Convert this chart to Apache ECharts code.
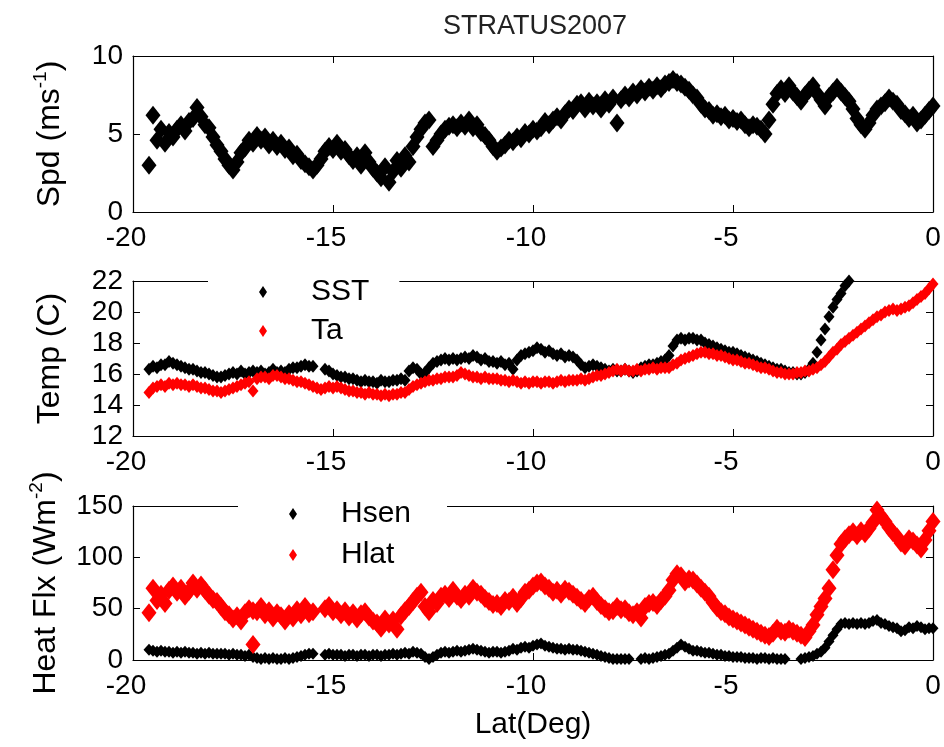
<!DOCTYPE html>
<html>
<head>
<meta charset="utf-8">
<script src="https://cdn.jsdelivr.net/npm/echarts@6.0.0/dist/echarts.min.js"></script>
<style>
html, body { margin: 0; padding: 0; background: #fff; }
#main { width: 944px; height: 747px; }
</style>
</head>
<body>
<div id="main"></div>
<script>
// latitude of each sample (deg)
var lat = [
  -19.6, -19.5, -19.4, -19.3, -19.2, -19.1, -19.0,
  -18.9, -18.8, -18.7, -18.6, -18.5, -18.4, -18.3, -18.2, -18.1, -18.0,
  -17.9, -17.8, -17.7, -17.6, -17.5, -17.4, -17.3, -17.2, -17.1, -17.0,
  -16.9, -16.8, -16.7, -16.6, -16.5, -16.4, -16.3, -16.2, -16.1, -16.0,
  -15.9, -15.8, -15.7, -15.6, -15.5, -15.4, -15.3, -15.2, -15.1, -15.0,
  -14.9, -14.8, -14.7, -14.6, -14.5, -14.4, -14.3, -14.2, -14.1, -14.0,
  -13.9, -13.8, -13.7, -13.6, -13.5, -13.4, -13.3, -13.2, -13.1, -13.0,
  -12.9, -12.8, -12.7, -12.6, -12.5, -12.4, -12.3, -12.2, -12.1, -12.0,
  -11.9, -11.8, -11.7, -11.6, -11.5, -11.4, -11.3, -11.2, -11.1, -11.0,
  -10.9, -10.8, -10.7, -10.6, -10.5, -10.4, -10.3, -10.2, -10.1, -10.0,
  -9.9, -9.8, -9.7, -9.6, -9.5, -9.4, -9.3, -9.2, -9.1, -9.0,
  -8.9, -8.8, -8.7, -8.6, -8.5, -8.4, -8.3, -8.2, -8.1, -8.0,
  -7.9, -7.8, -7.7, -7.6, -7.5, -7.4, -7.3, -7.2, -7.1, -7.0,
  -6.9, -6.8, -6.7, -6.6, -6.5, -6.4, -6.3, -6.2, -6.1, -6.0,
  -5.9, -5.8, -5.7, -5.6, -5.5, -5.4, -5.3, -5.2, -5.1, -5.0,
  -4.9, -4.8, -4.7, -4.6, -4.5, -4.4, -4.3, -4.2, -4.1, -4.0,
  -3.9, -3.8, -3.7, -3.6, -3.5, -3.4, -3.3, -3.2, -3.1, -3.0,
  -2.9, -2.8, -2.7, -2.6, -2.5, -2.4, -2.3, -2.2, -2.1, -2.0,
  -1.9, -1.8, -1.7, -1.6, -1.5, -1.4, -1.3, -1.2, -1.1, -1.0,
  -0.9, -0.8, -0.7, -0.6, -0.5, -0.4, -0.3, -0.2, -0.1, 0.0
];

// wind speed (m/s)
var spd = [
  3.0, 6.2, 4.6, 5.3, 4.4, 5.1, 4.8,
  5.3, 5.6, 5.2, 5.8, 6.0, 6.7, 6.1, 5.6, 5.4, 4.8,
  4.3, 3.9, 3.4, 3.0, 2.7, 3.2, 3.8, 4.1, 4.6, 4.4,
  4.9, 4.6, 4.8, 4.3, 4.6, 4.2, 4.4, 4.0, 4.1, 3.6,
  3.7, 3.3, 3.1, 2.9, 2.7, 3.0, 3.4, 3.9, 4.2, 4.0,
  4.4, 3.9, 4.0, 3.6, 3.3, 3.6, 3.0, 3.8, 3.2, 2.8,
  2.5, 2.2, 2.9, 1.9, 2.6, 3.3, 2.8, 3.6, 3.2, 4.2,
  4.8, 5.3, 5.7, 5.9, 4.2, 4.6, 5.0, 5.3, 5.5, 5.6,
  5.4, 5.7, 5.5, 5.9, 5.4, 5.6, 5.1, 4.9, 4.6, 4.2,
  3.9, 4.1, 4.3, 4.6, 4.5, 4.8, 4.7, 5.1, 5.0, 5.3,
  5.2, 5.4, 5.8, 5.6, 5.9, 6.1, 5.9, 6.3, 6.6, 6.5,
  6.9, 7.0, 6.6, 7.1, 6.8, 7.0, 6.6, 7.2, 6.9, 7.3,
  5.7, 7.2, 7.5, 7.3, 7.7, 7.5, 7.9, 7.7, 8.0, 7.8,
  8.1, 7.9, 8.2, 8.3, 8.5, 8.3, 8.2, 8.0, 7.8, 7.5,
  7.3, 6.9, 6.6, 6.5, 6.2, 6.3, 6.1, 6.2, 5.9, 6.0,
  5.8, 5.9, 5.6, 5.4, 5.6, 5.5, 5.3, 5.0, 5.9, 6.9,
  7.6, 7.9, 7.6, 8.1, 7.7, 7.4, 7.1, 7.5, 7.8, 8.1,
  7.6, 7.2, 6.8, 7.4, 7.7, 8.0, 7.7, 7.4, 7.1, 6.6,
  6.0, 5.6, 5.3, 5.7, 6.2, 6.6, 6.8, 7.0, 7.3, 7.1,
  6.9, 6.5, 6.3, 6.0, 6.2, 5.7, 5.9, 6.2, 6.5, 6.8
];

// sea surface temperature (C)
var sst = [
  16.3, 16.5, 16.4, 16.6, 16.6, 16.8, 16.7,
  16.6, 16.5, 16.4, 16.3, 16.3, 16.2, 16.1, 16.1, 16.0, 15.9,
  15.8, 15.8, 15.9, 16.0, 16.1, 16.0, 16.2, 16.0, 16.1, 16.2,
  16.1, 16.2, 16.0, 16.1, 16.3, 16.1, 16.2, 16.1, 16.3, 16.4,
  16.4, 16.5, 16.6, 16.5, 16.5, null, null, 16.3, 16.2, 16.0,
  15.9, 15.8, 15.8, 15.7, 15.7, 15.6, 15.5, 15.6, 15.5, 15.5,
  15.4, 15.6, 15.5, 15.5, 15.6, 15.6, 15.7, 15.6, 16.2, 16.4,
  16.3, 16.0, 16.1, 16.4, 16.7, 16.8, 16.9, 17.0, 16.9, 17.0,
  16.9, 17.0, 17.1, 17.0, 17.2, 17.1, 16.9, 17.0, 16.8, 16.8,
  16.7, 16.8, 16.6, 16.7, 16.3, 16.9, 17.2, 17.3, 17.4, 17.5,
  17.7, 17.6, 17.4, 17.5, 17.3, 17.2, 17.3, 17.1, 17.2, 17.1,
  16.9, 16.6, 16.4, 16.5, 16.6, 16.5, 16.4, 16.3, 16.2, 16.3,
  16.2, 16.2, 16.3, 16.2, 16.1, 16.2, 16.4, 16.5, 16.6, 16.6,
  16.7, 16.8, 16.9, 17.2, 17.8, 18.2, 18.3, 18.2, 18.3, 18.3,
  18.2, 18.2, 18.0, 17.9, 17.8, 17.7, 17.6, 17.5, 17.4, 17.4,
  17.3, 17.2, 17.1, 17.0, 16.9, 16.8, 16.7, 16.6, 16.5, 16.4,
  16.3, 16.3, 16.2, 16.1, 16.1, 16.0, 16.0, 16.1, 16.3, 16.7,
  17.4, 18.2, 18.9, 19.7, 20.3, 20.8, 21.2, 21.7, 22.0, null,
  null, null, null, null, null, null, null, null, null, null,
  null, null, null, null, null, null, null, null, null, null
];

// air temperature (C)
var ta = [
  14.8, 15.1, 15.2, 15.3, 15.2, 15.4, 15.3,
  15.4, 15.3, 15.3, 15.2, 15.3, 15.2, 15.1, 15.1, 15.0, 14.9,
  14.9, 14.8, 14.9, 15.0, 15.1, 15.2, 15.3, 15.4, 15.5, 14.9,
  15.7, 15.8, 15.8, 15.7, 15.9, 15.9, 15.8, 15.7, 15.7, 15.6,
  15.5, 15.5, 15.4, 15.3, 15.2, 15.1, 15.0, 15.1, 15.2, 15.1,
  15.2, 15.1, 15.0, 14.9, 14.9, 14.8, 14.8, 14.7, 14.8, 14.7,
  14.7, 14.6, 14.7, 14.6, 14.7, 14.7, 14.8, 14.8, 15.0, 15.2,
  15.3, 15.4, 15.5, 15.6, 15.6, 15.7, 15.7, 15.8, 15.8, 15.8,
  15.9, 16.1, 16.0, 15.9, 15.8, 15.8, 15.7, 15.8, 15.7, 15.7,
  15.7, 15.6, 15.6, 15.5, 15.6, 15.5, 15.4, 15.5, 15.4, 15.5,
  15.5, 15.4, 15.5, 15.5, 15.4, 15.5, 15.6, 15.5, 15.6, 15.6,
  15.6, 15.7, 15.6, 15.7, 15.8, 15.9, 15.9, 16.0, 16.1, 16.2,
  16.3, 16.2, 16.3, 16.2, 16.2, 16.3, 16.2, 16.3, 16.3, 16.4,
  16.3, 16.4, 16.4, 16.4, 16.6, 16.7, 16.9, 17.0, 17.1, 17.2,
  17.3, 17.4, 17.4, 17.3, 17.3, 17.2, 17.2, 17.1, 17.0, 16.9,
  16.9, 16.8, 16.7, 16.7, 16.6, 16.5, 16.4, 16.4, 16.3, 16.2,
  16.1, 16.1, 16.0, 16.0, 16.0, 16.1, 16.1, 16.2, 16.2, 16.3,
  16.4, 16.6, 16.8, 17.1, 17.4, 17.6, 17.9, 18.1, 18.3, 18.5,
  18.7, 18.9, 19.1, 19.3, 19.5, 19.7, 19.8, 20.0, 20.1, 20.2,
  20.1, 20.2, 20.3, 20.4, 20.6, 20.8, 21.0, 21.2, 21.5, 21.8
];

// sensible heat flux (W/m2)
var hsen = [
  10, 9, 8, 9, 8, 8, 7,
  8, 7, 8, 7, 7, 6, 7, 6, 7, 6,
  6, 6, 6, 5, 6, 5, 5, 4, 5, 3,
  2, 1, 2, 1, 2, 1, 1, 2, 1, 2,
  3, 4, 5, 6, 6, null, null, 5, 6, 5,
  5, 5, 4, 5, 5, 4, 5, 5, 4, 5,
  5, 4, 5, 5, 6, 5, 6, 7, 6, 8,
  7, 6, 3, 1, 3, 5, 7, 8, 7, 8,
  9, 8, 9, 10, 11, 10, 9, 8, 7, 8,
  8, 7, 8, 9, 11, 10, 12, 13, 12, 14,
  15, 16, 14, 13, 12, 11, 11, 10, 11, 10,
  10, 9, 8, 7, 6, 5, 4, 3, 2, 1,
  1, 1, 1, 1, null, null, 1, 2, 1, 2,
  3, 4, 5, 6, 9, 12, 15, 13, 11, 9,
  9, 8, 7, 7, 6, 5, 5, 4, 4, 3,
  3, 3, 2, 2, 2, 1, 2, 2, 1, 2,
  1, 1, 1, null, null, null, 1, 2, 3, 4,
  6, 8, 12, 18, 24, 30, 35, 36, 35, 36,
  35, 36, 35, 36, 38, 39, 36, 35, 33, 32,
  31, 28, 29, 32, 31, 33, 32, 30, 31, 31
];

// latent heat flux (W/m2)
var hlat = [
  46, 70, 58, 64, 55, 68, 72,
  66, 70, 62, 67, 75, 69, 73, 68, 63, 59,
  57, 52, 47, 44, 40, 43, 38, 46, 50, 48,
  47, 52, 44, 48, 41, 46, 43, 38, 45, 41,
  49, 44, 52, 45, 47, null, null, 50, 53, 47,
  49, 44, 48, 42, 46, 40, 45, 47, 42, 38,
  36, 31, 40, 35, 39, 30, 43, 48, 52, 57,
  62, 66, 52, 47, 58, 55, 62, 64, 60, 68,
  62, 59, 64, 62, 70, 66, 64, 60, 57, 54,
  55, 52, 58, 57, 61, 55, 60, 66, 68, 72,
  75, 76, 72, 70, 66, 68, 64, 69, 67, 64,
  61, 58, 55, 60, 62, 57, 53, 50, 47, 48,
  52, 49, 50, 46, 44, 47, 41, 52, 55, 56,
  53, 58, 62, 68, 78, 84, 82, 76, 79, 78,
  74, 70, 66, 62, 56, 51, 47, 45, 42, 40,
  38, 36, 34, 32, 30, 28, 26, 24, 23, 26,
  31, 28, 27, 30, 28, 26, 24, 22, 28, 34,
  44, 52, 60, 70, 88, 102, 113, 118, 122, 125,
  121, 126, 123, 128, 134, 146, 140, 135, 129, 124,
  120, 114, 111, 118, 116, 112, 108, 117, 126, 135
];

// stray points off the main band
var hlatOddLat = [-17.0];
var hlatOdd = [15];

var latTicks = [-20, -15, -10, -5, 0];

function pairs(xs, ys) {
  var out = [];
  for (var i = 0; i < xs.length; i++) {
    if (ys[i] !== null && ys[i] !== undefined) out.push([xs[i], ys[i]]);
  }
  return out;
}

var font = 'Liberation Sans, Arial, sans-serif';
var black = '#000000';
var red = '#ff0000';

var grids = [
  { left: 133, top: 56, width: 800, height: 156 },
  { left: 133, top: 281, width: 800, height: 155 },
  { left: 133, top: 506, width: 800, height: 154 }
];

var yRanges = [
  { min: 0, max: 10, interval: 5, name: 'Spd (ms{s|-1})' },
  { min: 12, max: 22, interval: 2, name: 'Temp (C)' },
  { min: 0, max: 150, interval: 50, name: 'Heat Flx (Wm{s|-2})' }
];

var axisLineStyle = { onZero: false, lineStyle: { color: black, width: 1.2 } };
var tickStyle = { inside: true, length: 7, lineStyle: { color: black } };

var xAxes = [], yAxes = [];
grids.forEach(function (g, i) {
  var bottom = {
    gridIndex: i, type: 'value', position: 'bottom',
    min: latTicks[0], max: latTicks[latTicks.length - 1], interval: 5,
    axisLine: axisLineStyle,
    axisTick: tickStyle,
    axisLabel: {
      color: black, fontSize: 28, fontFamily: font, margin: 12,
      // minus sign hangs to the left of the tick, as in the original
      formatter: function (v) { return v < 0 ? '{n|' + v + '}' : '' + v; },
      rich: { n: { fontSize: 28, fontFamily: font, color: black, padding: [0, 14, 0, 0] } }
    },
    splitLine: { show: false }
  };
  if (i === 2) {
    bottom.name = 'Lat(Deg)';
    bottom.nameLocation = 'middle';
    bottom.nameGap = 50;
    bottom.nameTextStyle = { color: black, fontSize: 30, fontFamily: font };
  }
  xAxes.push(bottom);
  xAxes.push({
    gridIndex: i, type: 'value', position: 'top',
    min: latTicks[0], max: latTicks[latTicks.length - 1], interval: 5,
    axisLine: axisLineStyle,
    axisTick: tickStyle,
    axisLabel: { show: false },
    splitLine: { show: false }
  });

  var r = yRanges[i];
  yAxes.push({
    gridIndex: i, type: 'value', position: 'left',
    min: r.min, max: r.max, interval: r.interval,
    name: r.name, nameLocation: 'middle', nameGap: 64,
    nameTextStyle: {
      color: black, fontSize: 32, fontFamily: font, lineHeight: 38,
      rich: { s: { fontSize: 19, lineHeight: 20, verticalAlign: 'top', color: black, fontFamily: font } }
    },
    axisLine: axisLineStyle,
    axisTick: tickStyle,
    axisLabel: { color: black, fontSize: 28, fontFamily: font, margin: 10 },
    splitLine: { show: false }
  });
  yAxes.push({
    gridIndex: i, type: 'value', position: 'right',
    min: r.min, max: r.max, interval: r.interval,
    axisLine: axisLineStyle,
    axisTick: tickStyle,
    axisLabel: { show: false },
    splitLine: { show: false }
  });
});

function scatter(name, panel, data, color, size) {
  return {
    name: name, type: 'scatter',
    xAxisIndex: panel * 2, yAxisIndex: panel * 2,
    data: data, symbol: 'diamond', symbolSize: size,
    itemStyle: { color: color, opacity: 1 },
    silent: true, animation: false
  };
}

var legendIcon = 'path://M0,-6L4,0L0,6L-4,0Z';

var option = {
  animation: false,
  backgroundColor: '#fff',
  title: {
    text: 'STRATUS2007', left: 530, top: 8, textAlign: 'center',
    textStyle: { color: '#222', fontSize: 27, fontWeight: 'normal', fontFamily: font }
  },
  grid: grids,
  xAxis: xAxes,
  yAxis: yAxes,
  legend: [
    {
      data: ['SST', 'Ta'], orient: 'vertical', left: 208, top: 272,
      backgroundColor: '#fff', padding: [5, 30, 5, 51], itemGap: 9,
      icon: legendIcon, itemWidth: 86, itemHeight: 12,
      textStyle: { color: black, fontSize: 30, fontFamily: font },
      selectedMode: false
    },
    {
      data: ['Hsen', 'Hlat'], orient: 'vertical', left: 238, top: 494,
      backgroundColor: '#fff', padding: [5, 36, 5, 51], itemGap: 11,
      icon: legendIcon, itemWidth: 86, itemHeight: 12,
      textStyle: { color: black, fontSize: 30, fontFamily: font },
      selectedMode: false
    }
  ],
  series: [
    scatter('Spd', 0, pairs(lat, spd), black, [15, 19]),
    scatter('SST', 1, pairs(lat, sst), black, [11, 13]),
    scatter('Ta', 1, pairs(lat, ta), red, [11, 13]),
    scatter('Hsen', 2, pairs(lat, hsen), black, [11, 12]),
    scatter('Hlat', 2, pairs(lat, hlat).concat(pairs(hlatOddLat, hlatOdd)), red, [15, 19])
  ]
};

var chart = echarts.init(document.getElementById('main'), null, { renderer: 'canvas' });
chart.setOption(option);
</script>
</body>
</html>
